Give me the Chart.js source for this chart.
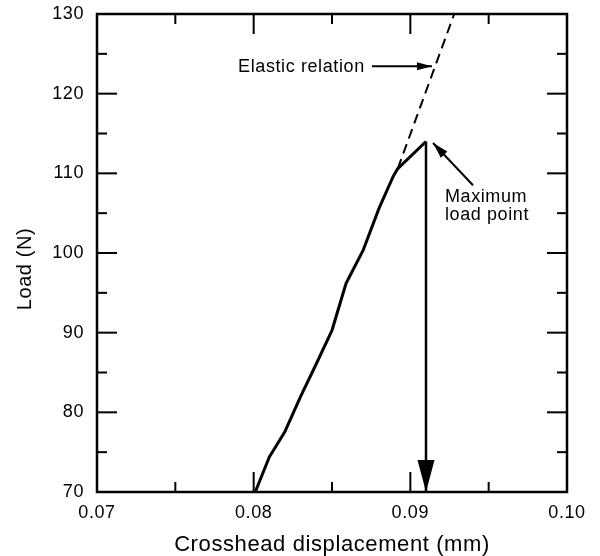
<!DOCTYPE html>
<html>
<head>
<meta charset="utf-8">
<script src="https://cdn.jsdelivr.net/npm/chart.js@4"></script>
<style>
  html, body { margin: 0; padding: 0; background: #fff; }
  #wrap { width: 600px; height: 556px; }
</style>
</head>
<body>
<div id="wrap"><canvas id="chart" width="600" height="556"></canvas></div>
<script>
// load curve (displacement in mm, load in N)
const displacement = [0.0801, 0.0810, 0.0820, 0.0830, 0.0840, 0.0850, 0.0859, 0.0870, 0.0880, 0.0889, 0.0892, 0.0910];
const load = [70.0, 74.4, 77.6, 82.0, 86.1, 90.3, 96.2, 100.4, 105.6, 109.6, 110.6, 114.0];

// dashed elastic relation, extended past the bend
const elasticX = [0.0892, 0.0928];
const elasticY = [110.6, 130];

// drop after the maximum load point
const dropX = [0.0910, 0.0910];
const dropY = [114.0, 70];

const xTicks = [0.07, 0.08, 0.09, 0.10];
const xTickLabels = ['0.07', '0.08', '0.09', '0.10'];
const yTicks = [70, 80, 90, 100, 110, 120, 130];
const yTickLabels = ['70', '80', '90', '100', '110', '120', '130'];

const FONT = '"Liberation Sans", Arial, Helvetica, sans-serif';

function toPts(xs, ys) {
  return xs.map((x, i) => ({ x: x, y: ys[i] }));
}

// filled arrow head pointing at (x2, y2), coming from (x1, y1)
function arrowHead(ctx, x1, y1, x2, y2, len, half) {
  const a = Math.atan2(y2 - y1, x2 - x1);
  const bx = x2 - len * Math.cos(a), by = y2 - len * Math.sin(a);
  ctx.beginPath();
  ctx.moveTo(x2, y2);
  ctx.lineTo(bx + half * Math.sin(a), by - half * Math.cos(a));
  ctx.lineTo(bx - half * Math.sin(a), by + half * Math.cos(a));
  ctx.closePath();
  ctx.fill();
}

function arrow(ctx, x1, y1, x2, y2, len, half) {
  ctx.beginPath();
  ctx.moveTo(x1, y1);
  ctx.lineTo(x2, y2);
  ctx.stroke();
  arrowHead(ctx, x1, y1, x2, y2, len, half);
}

// frame, inward ticks on all four sides, annotations
const framePlugin = {
  id: 'frame',
  beforeDraw(chart) {
    chart.ctx.letterSpacing = '0.6px';
  },
  afterDatasetsDraw(chart) {
    const { ctx, chartArea: a, scales: { x, y } } = chart;
    ctx.save();
    ctx.strokeStyle = '#000';
    ctx.fillStyle = '#000';
    ctx.lineCap = 'butt';

    ctx.lineWidth = 2;
    function seg(x1, y1, x2, y2) {
      ctx.beginPath(); ctx.moveTo(x1, y1); ctx.lineTo(x2, y2); ctx.stroke();
    }
    const xs = x.ticks.map(t => t.value);
    xs.forEach((v, i) => {
      const px = x.getPixelForValue(v);
      seg(px, a.bottom, px, a.bottom - 20);
      seg(px, a.top, px, a.top + 20);
      if (i < xs.length - 1) {
        const pm = x.getPixelForValue((v + xs[i + 1]) / 2);
        seg(pm, a.bottom, pm, a.bottom - 10);
        seg(pm, a.top, pm, a.top + 10);
      }
    });
    const ys = y.ticks.map(t => t.value);
    ys.forEach((v, i) => {
      const py = y.getPixelForValue(v);
      seg(a.left, py, a.left + 20, py);
      seg(a.right, py, a.right - 20, py);
      if (i < ys.length - 1) {
        const pm = y.getPixelForValue((v + ys[i + 1]) / 2);
        seg(a.left, pm, a.left + 10, pm);
        seg(a.right, pm, a.right - 10, pm);
      }
    });

    ctx.lineWidth = 2.5;
    ctx.strokeRect(a.left, a.top, a.right - a.left, a.bottom - a.top);

    // arrow head at the foot of the drop line
    const dx = x.getPixelForValue(dropX[1]);
    arrowHead(ctx, dx, y.getPixelForValue(dropY[0]), dx, y.getPixelForValue(dropY[1]), 32, 8.5);

    // annotation arrows
    ctx.lineWidth = 2;
    const ey = y.getPixelForValue(123.45);
    arrow(ctx, x.getPixelForValue(0.08755), ey, x.getPixelForValue(0.09138), ey, 15, 4);
    arrow(ctx, x.getPixelForValue(0.0940), y.getPixelForValue(108.5),
      x.getPixelForValue(0.09145), y.getPixelForValue(113.8), 16, 4.5);

    ctx.font = '18px ' + FONT;
    ctx.textBaseline = 'alphabetic';
    ctx.textAlign = 'right';
    ctx.fillText('Elastic relation', x.getPixelForValue(0.08709), y.getPixelForValue(122.7));
    ctx.textAlign = 'left';
    ctx.fillText('Maximum', x.getPixelForValue(0.09221), y.getPixelForValue(106.4));
    ctx.fillText('load point', x.getPixelForValue(0.09221), y.getPixelForValue(104.2));

    // y axis title
    ctx.font = '20px ' + FONT;
    ctx.textAlign = 'center';
    ctx.textBaseline = 'middle';
    ctx.translate(25, (a.top + a.bottom) / 2 + 16);
    ctx.rotate(-Math.PI / 2);
    ctx.fillText('Load (N)', 0, 0);
    ctx.restore();
  }
};

new Chart(document.getElementById('chart'), {
  type: 'scatter',
  data: {
    datasets: [
      {
        data: toPts(displacement, load),
        showLine: true,
        borderColor: '#000',
        borderWidth: 3,
        borderJoinStyle: 'round',
        pointRadius: 0,
        tension: 0
      },
      {
        data: toPts(elasticX, elasticY),
        showLine: true,
        borderColor: '#000',
        borderWidth: 2,
        borderDash: [10, 6],
        pointRadius: 0
      },
      {
        data: toPts(dropX, dropY),
        showLine: true,
        borderColor: '#000',
        borderWidth: 2.5,
        pointRadius: 0
      }
    ]
  },
  options: {
    responsive: false,
    animation: false,
    layout: { padding: { top: 14, right: 33, left: 0, bottom: 0 } },
    plugins: { legend: { display: false }, tooltip: { enabled: false } },
    scales: {
      x: {
        type: 'linear',
        position: 'bottom',
        min: 0.07,
        max: 0.10,
        afterBuildTicks: s => { s.ticks = xTicks.map(v => ({ value: v })); },
        afterFit: s => { s.height = 64; s.paddingLeft = 0; s.paddingRight = 0; },
        grid: { display: false, drawTicks: false },
        border: { display: false },
        ticks: {
          padding: 10,
          color: '#000',
          font: { family: FONT, size: 18 },
          callback: (v, i) => xTickLabels[i]
        },
        title: {
          display: true,
          text: 'Crosshead displacement (mm)',
          color: '#000',
          font: { family: FONT, size: 22, lineHeight: 1 },
          padding: 0
        }
      },
      y: {
        type: 'linear',
        position: 'left',
        min: 70,
        max: 130,
        afterBuildTicks: s => { s.ticks = yTicks.map(v => ({ value: v })); },
        afterFit: s => { s.width = 97; s.paddingTop = 0; s.paddingBottom = 0; },
        grid: { display: false, drawTicks: false },
        border: { display: false },
        ticks: {
          padding: 13,
          color: '#000',
          font: { family: FONT, size: 18 },
          callback: (v, i) => yTickLabels[i]
        }
      }
    }
  },
  plugins: [framePlugin]
});
</script>
</body>
</html>
